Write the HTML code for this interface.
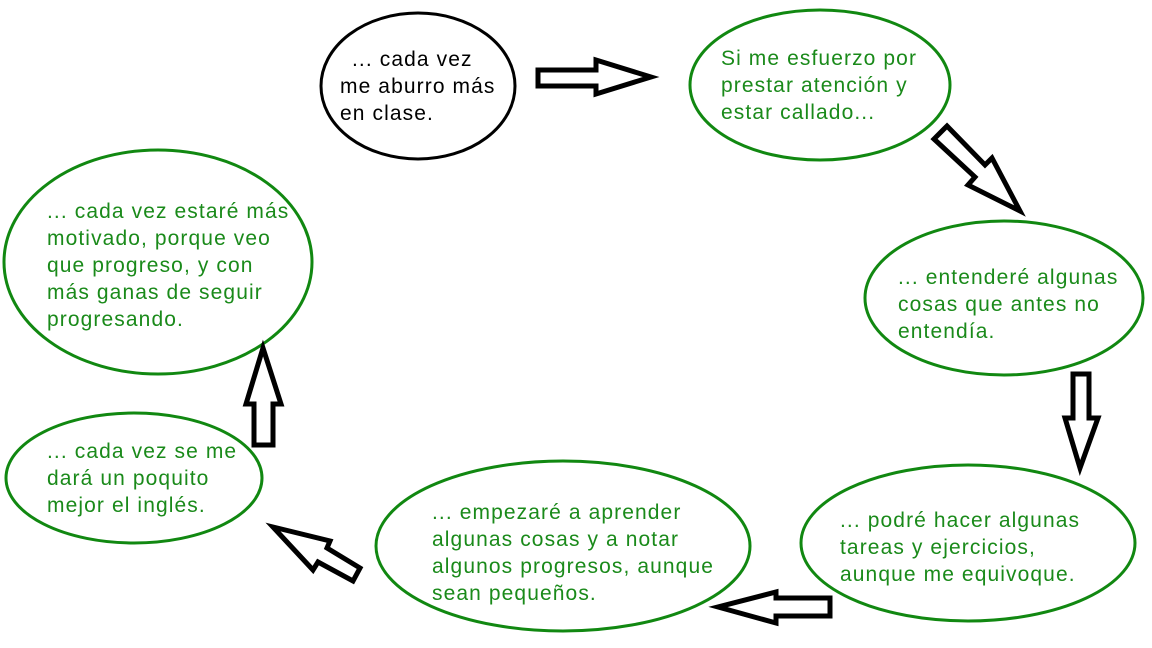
<!DOCTYPE html>
<html><head><meta charset="utf-8"><style>
html,body{margin:0;padding:0;background:#fff;width:1152px;height:648px;overflow:hidden}
svg text{font-family:"Liberation Sans",sans-serif;font-size:21px;letter-spacing:1.1px}
</style></head><body>
<svg width="1152" height="648" viewBox="0 0 1152 648" xmlns="http://www.w3.org/2000/svg">
<g fill="none" stroke-width="3">
<ellipse cx="418" cy="86" rx="97" ry="73" stroke="#000"/>
<ellipse cx="820" cy="85" rx="130" ry="75" stroke="#118811"/>
<ellipse cx="1004" cy="298" rx="139" ry="77" stroke="#118811"/>
<ellipse cx="968" cy="543" rx="167" ry="78" stroke="#118811"/>
<ellipse cx="563" cy="546" rx="187" ry="85" stroke="#118811"/>
<ellipse cx="134" cy="478" rx="128" ry="65" stroke="#118811"/>
<ellipse cx="158" cy="262" rx="154" ry="112" stroke="#118811"/>
</g>
<g fill="#fff" stroke="#000" stroke-width="5" stroke-linejoin="miter">
<polygon points="538,70 596,70 596,60 651,77 596,94 596,86 538,86"/>
<polygon points="947,126 985,165 992,158 1020,211 968,185 975,177 934,139"/>
<polygon points="1073,374 1089,374 1089,418 1098,418 1080,468 1065,418 1073,418"/>
<polygon points="830,598 776,598 776,592 718,607 776,623 776,616 830,616"/>
<polygon points="273,527 330,541 327,548 360,568 353,581 318,562 313,570"/>
<polygon points="263,348 281,404 273,404 273,445 254,445 254,404 246,404"/>
</g>
<g fill="#000">
<text x="352" y="66">... cada vez</text>
<text x="340" y="93">me aburro más</text>
<text x="340" y="120">en clase.</text>
</g>
<g fill="#1a8a1a">
<text x="721" y="65">Si me esfuerzo por</text>
<text x="721" y="92">prestar atención y</text>
<text x="721" y="119">estar callado...</text>
<text x="898" y="284">... entenderé algunas</text>
<text x="898" y="311">cosas que antes no</text>
<text x="898" y="338">entendía.</text>
<text x="840" y="527">... podré hacer algunas</text>
<text x="840" y="554">tareas y ejercicios,</text>
<text x="840" y="581">aunque me equivoque.</text>
<text x="432" y="519">... empezaré a aprender</text>
<text x="432" y="546">algunas cosas y a notar</text>
<text x="432" y="573">algunos progresos, aunque</text>
<text x="432" y="600">sean pequeños.</text>
<text x="47" y="458">... cada vez se me</text>
<text x="47" y="485">dará un poquito</text>
<text x="47" y="512">mejor el inglés.</text>
<text x="47" y="218">... cada vez estaré más</text>
<text x="47" y="245">motivado, porque veo</text>
<text x="47" y="272">que progreso, y con</text>
<text x="47" y="299">más ganas de seguir</text>
<text x="47" y="326">progresando.</text>
</g>
</svg>
</body></html>
